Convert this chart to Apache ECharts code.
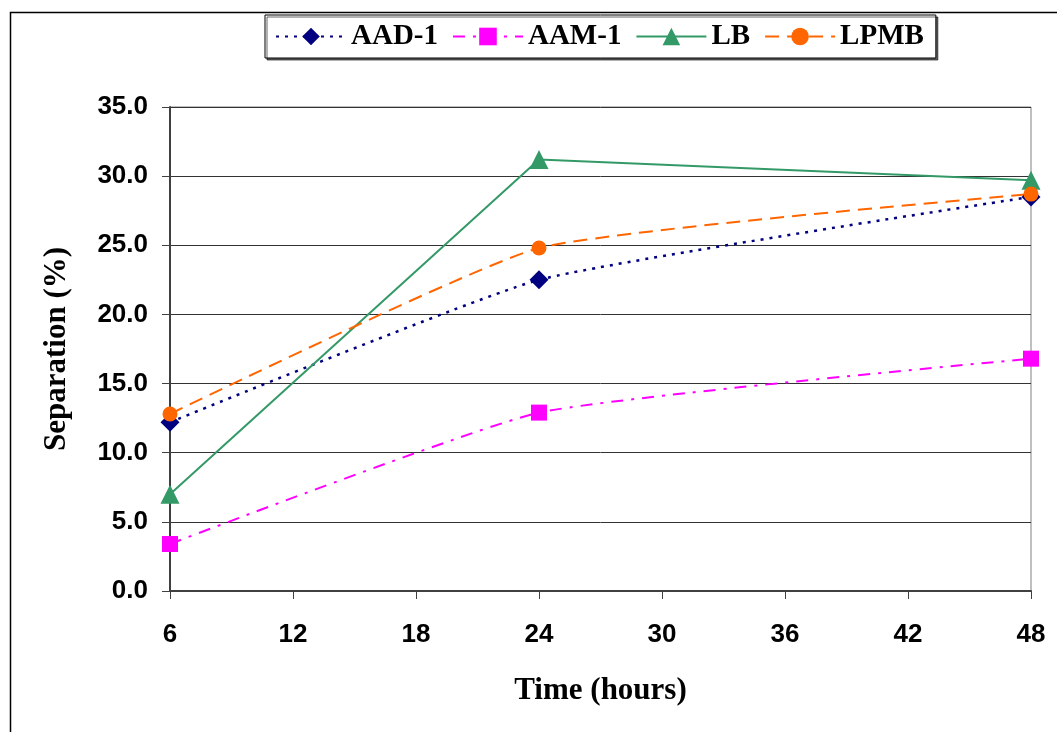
<!DOCTYPE html>
<html>
<head>
<meta charset="utf-8">
<script src="https://cdn.jsdelivr.net/npm/echarts@6/dist/echarts.min.js"></script>
<style>html,body{margin:0;padding:0;background:#fff}#c{width:1057px;height:732px}</style>
</head>
<body>
<div id="c"></div>
<script>
var hours = [6, 24, 48];
var aad1 = [12.2, 22.5, 28.5];
var aam1 = [3.4, 12.9, 16.8];
var lb = [7.0, 31.2, 29.7];
var lpmb = [12.8, 24.8, 28.7];
var seriesNames = ['AAD-1', 'AAM-1', 'LB', 'LPMB'];

function pairs(v) { return hours.map(function (h, i) { return [h, v[i]]; }); }

var chart = echarts.init(document.getElementById('c'));
chart.setOption({
  animation: false,
  backgroundColor: '#fff',
  graphic: [{
    type: 'rect', left: 8, top: 10, shape: { width: 1200, height: 900 },
    style: { fill: 'none', stroke: '#000', lineWidth: 1.5 }, z: -1
  }],
  legend: {
    data: seriesNames,
    left: 265, top: 15,
    padding: [7, 12, 7, 10],
    itemWidth: 70, itemHeight: 22, itemGap: 14,
    borderColor: '#000', borderWidth: 1,
    shadowColor: 'rgba(0,0,0,0.6)', shadowOffsetX: 2, shadowOffsetY: 2, shadowBlur: 0,
    backgroundColor: '#fff',
    textStyle: { fontFamily: 'Liberation Serif', fontWeight: 'bold', fontSize: 29, color: '#000' }
  },
  grid: { left: 170, right: 26, top: 107, bottom: 141, show: true, borderColor: '#808080', borderWidth: 1 },
  xAxis: {
    type: 'value', min: 6, max: 48, interval: 6,
    name: 'Time (hours)', nameLocation: 'middle', nameGap: 84,
    nameTextStyle: { fontFamily: 'Liberation Serif', fontWeight: 'bold', fontSize: 31, color: '#000' },
    axisLine: { lineStyle: { color: '#404040', width: 2 } },
    axisTick: { length: 8, lineStyle: { color: '#404040', width: 1 } },
    axisLabel: { margin: 31, fontFamily: 'Liberation Sans', fontWeight: 'bold', fontSize: 26, color: '#000' },
    splitLine: { show: false }
  },
  yAxis: {
    type: 'value', min: 0, max: 35, interval: 5,
    name: 'Separation (%)', nameLocation: 'middle', nameGap: 98,
    nameTextStyle: { fontFamily: 'Liberation Serif', fontWeight: 'bold', fontSize: 31, color: '#000' },
    axisLine: { show: true, lineStyle: { color: '#404040', width: 2 } },
    axisTick: { show: true, length: 8, lineStyle: { color: '#404040', width: 1 } },
    axisLabel: { margin: 22, fontFamily: 'Liberation Sans', fontWeight: 'bold', fontSize: 26, color: '#000',
      formatter: function (v) { return v.toFixed(1); } },
    splitLine: { lineStyle: { color: '#333', width: 1 } }
  },
  series: [
    { name: 'AAD-1', type: 'line', data: pairs(aad1), smooth: 0.15,
      symbol: 'diamond', symbolSize: 19,
      itemStyle: { color: '#000080' },
      lineStyle: { color: '#000080', width: 2.5, type: [3, 6] } },
    { name: 'AAM-1', type: 'line', data: pairs(aam1), smooth: 0.15,
      symbol: 'rect', symbolSize: 16,
      itemStyle: { color: '#FF00FF' },
      lineStyle: { color: '#FF00FF', width: 2, type: [12, 8, 3, 8] } },
    { name: 'LB', type: 'line', data: pairs(lb), smooth: false,
      symbol: 'triangle', symbolSize: 19,
      itemStyle: { color: '#339966' },
      lineStyle: { color: '#339966', width: 2, type: 'solid' } },
    { name: 'LPMB', type: 'line', data: pairs(lpmb), smooth: 0.15,
      symbol: 'circle', symbolSize: 15,
      itemStyle: { color: '#FF6600' },
      lineStyle: { color: '#FF6600', width: 2, type: [14, 8] } }
  ]
});
</script>
</body>
</html>
